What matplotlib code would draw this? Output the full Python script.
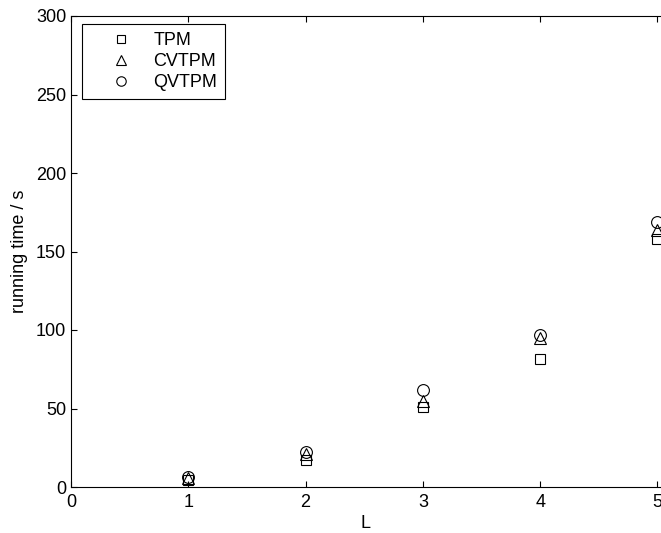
import numpy as np
import matplotlib.pyplot as plt

plt.rcParams['font.family'] = ['Liberation Sans', 'DejaVu Sans']

L = [1, 2, 3, 4, 5]
tpm = [4.5, 17, 51, 81.5, 158]
cvtpm = [6, 21, 55, 95, 164]
qvtpm = [6.5, 22, 62, 97, 169]

fig = plt.figure(figsize=(6.61, 5.33), dpi=100)
# axes runs just past the right edge of the picture, like the original
ax = fig.add_axes([71 / 661, 1 - 487 / 533, 590 / 661, 471 / 533])

kw = dict(linestyle='none', markerfacecolor='none', markeredgecolor='black',
          markeredgewidth=0.8, clip_on=False)
ax.plot(L, tpm, marker='s', markersize=7, label='TPM', **kw)
ax.plot(L, cvtpm, marker='^', markersize=8.5, label='CVTPM', **kw)
ax.plot(L, qvtpm, marker='o', markersize=8.5, label='QVTPM', **kw)

ax.set_xlim(0, 5.03)
ax.set_ylim(0, 300)
ax.set_xticks(range(0, 6))
ax.set_yticks(range(0, 301, 50))
ax.spines['right'].set_visible(False)
ax.tick_params(direction='in', labelsize=13, length=4, top=True, right=False)
ax.tick_params(axis='x', pad=5)
ax.set_xlabel('L', fontsize=13, labelpad=3)
ax.set_ylabel('running time / s', fontsize=13, labelpad=6)

leg = ax.legend(loc='upper left', fontsize=13, fancybox=False, framealpha=1,
                edgecolor='black', borderpad=0.45, handlelength=3.4,
                handletextpad=0.1, labelspacing=0.22, markerscale=0.8,
                bbox_to_anchor=(11 / 590, 1 - 8 / 471), borderaxespad=0)
leg.get_frame().set_linewidth(0.8)

fig.savefig('out.png', dpi=100)
